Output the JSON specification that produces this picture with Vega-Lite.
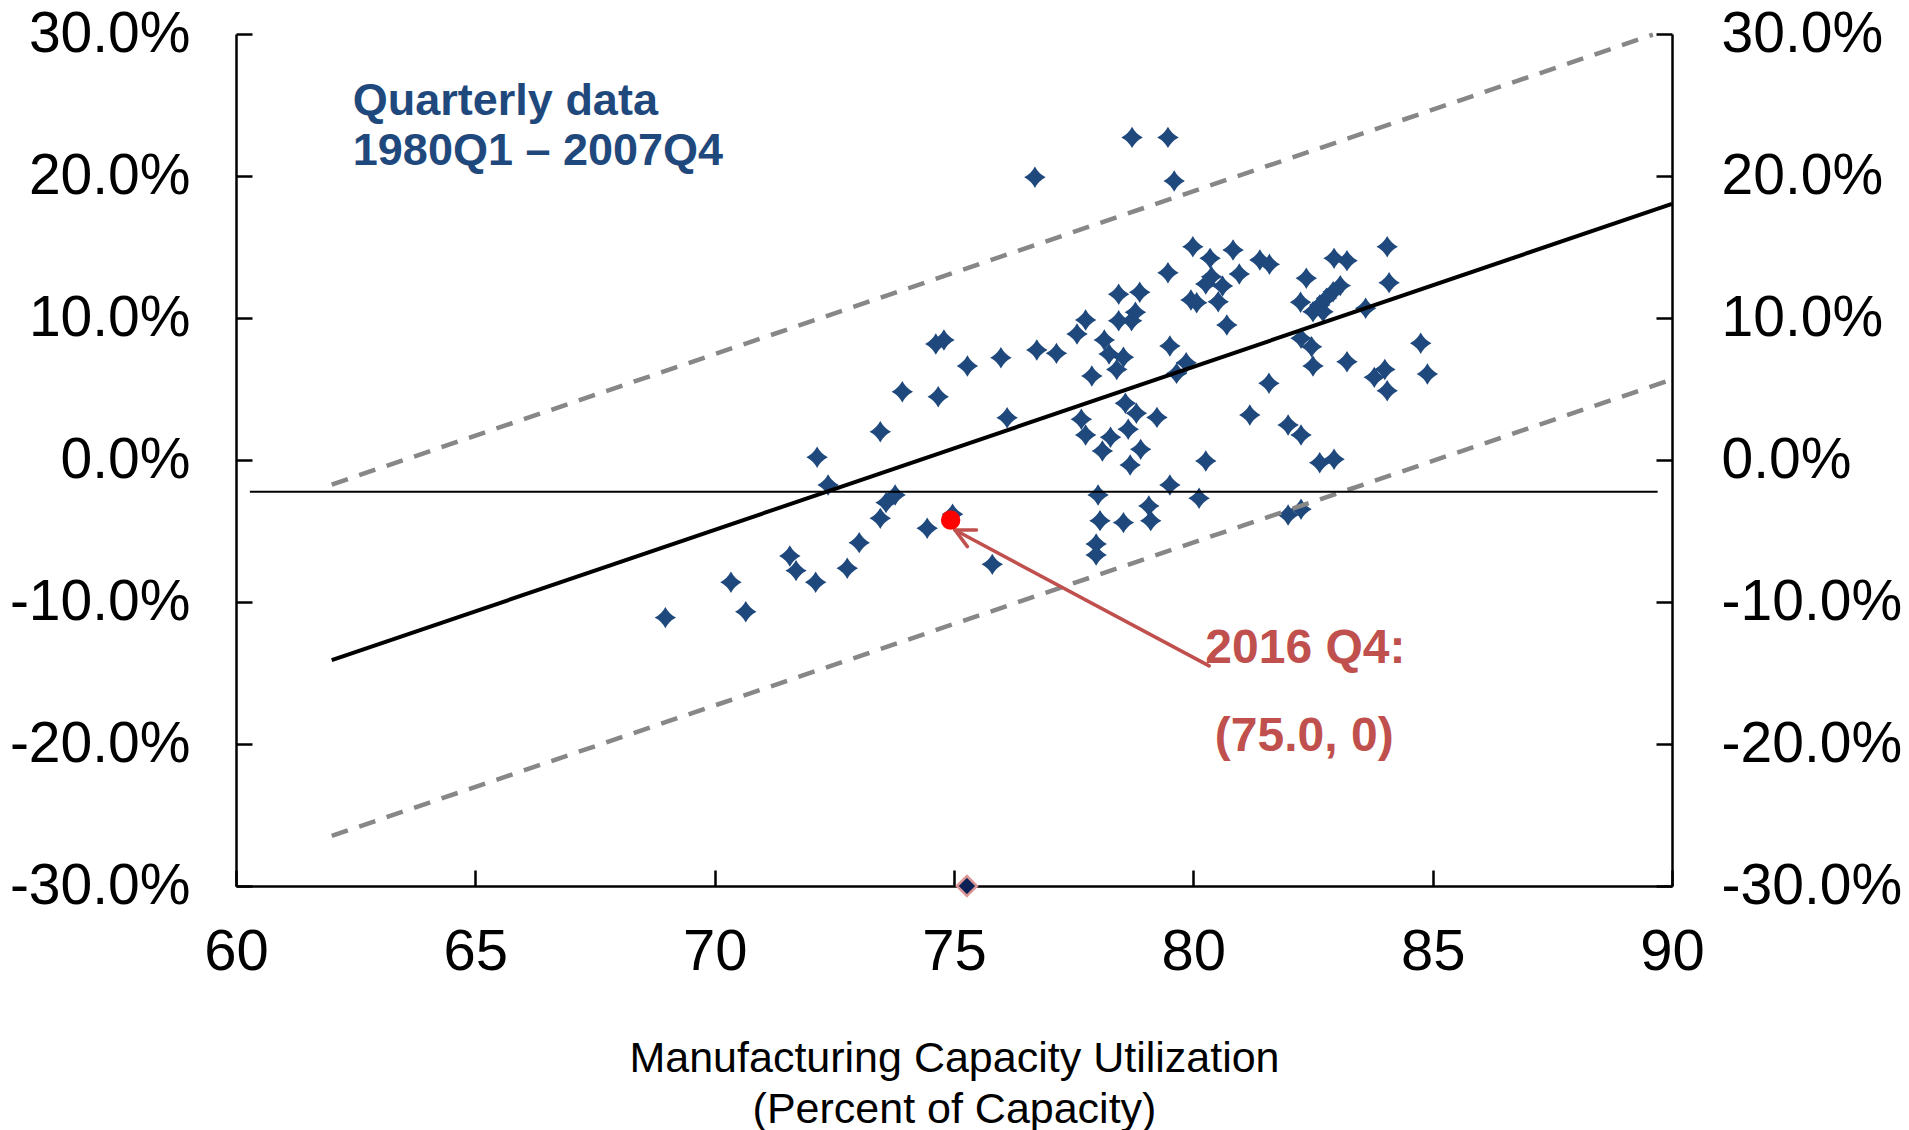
{
  "$schema": "https://vega.github.io/schema/vega-lite/v6.json",
  "width": 1436,
  "height": 852,
  "autosize": {"type": "none"},
  "padding": {"left": 236, "top": 34, "right": 237, "bottom": 244},
  "background": "white",
  "config": {"view": {"stroke": null}, "font": "Liberation Sans"},
  "datasets": {
    "pts": [
      {"cu": 76.69, "g": 19.91}, {"cu": 74.62, "g": 8.17}, {"cu": 74.79, "g": 8.45}, {"cu": 75.28, "g": 6.62},
      {"cu": 75.98, "g": 7.2}, {"cu": 76.73, "g": 7.75}, {"cu": 77.14, "g": 7.51}, {"cu": 73.92, "g": 4.81},
      {"cu": 74.67, "g": 4.46}, {"cu": 78.72, "g": 22.72}, {"cu": 79.47, "g": 22.72}, {"cu": 79.6, "g": 19.65},
      {"cu": 79.99, "g": 15.02}, {"cu": 80.83, "g": 14.79}, {"cu": 80.35, "g": 14.2}, {"cu": 81.39, "g": 14.08},
      {"cu": 81.59, "g": 13.78}, {"cu": 79.47, "g": 13.19}, {"cu": 80.96, "g": 13.1}, {"cu": 80.38, "g": 12.91},
      {"cu": 80.26, "g": 12.39}, {"cu": 80.61, "g": 12.25}, {"cu": 79.95, "g": 11.27}, {"cu": 80.07, "g": 11.08},
      {"cu": 80.52, "g": 11.15}, {"cu": 80.7, "g": 9.51}, {"cu": 78.44, "g": 11.67}, {"cu": 78.88, "g": 11.81},
      {"cu": 78.79, "g": 10.4}, {"cu": 78.71, "g": 9.81}, {"cu": 78.44, "g": 9.81}, {"cu": 77.75, "g": 9.86},
      {"cu": 77.57, "g": 8.87}, {"cu": 78.14, "g": 8.45}, {"cu": 78.24, "g": 7.46}, {"cu": 78.54, "g": 7.23},
      {"cu": 78.4, "g": 6.38}, {"cu": 77.88, "g": 5.92}, {"cu": 79.51, "g": 8.03}, {"cu": 79.85, "g": 6.85},
      {"cu": 79.65, "g": 6.1}, {"cu": 81.58, "g": 5.4}, {"cu": 82.36, "g": 12.8}, {"cu": 82.94, "g": 14.2},
      {"cu": 83.21, "g": 14.04}, {"cu": 84.05, "g": 15.02}, {"cu": 84.09, "g": 12.49}, {"cu": 82.24, "g": 11.11},
      {"cu": 83.07, "g": 12.28}, {"cu": 82.92, "g": 11.85}, {"cu": 82.78, "g": 11.39}, {"cu": 82.64, "g": 10.92},
      {"cu": 82.5, "g": 10.44}, {"cu": 82.71, "g": 10.44}, {"cu": 83.6, "g": 10.68}, {"cu": 82.25, "g": 8.57},
      {"cu": 82.47, "g": 7.98}, {"cu": 82.5, "g": 6.62}, {"cu": 83.21, "g": 6.92}, {"cu": 83.78, "g": 5.82},
      {"cu": 84.0, "g": 6.38}, {"cu": 84.05, "g": 4.88}, {"cu": 84.75, "g": 8.22}, {"cu": 84.89, "g": 6.06},
      {"cu": 76.11, "g": 2.98}, {"cu": 73.46, "g": 1.99}, {"cu": 72.14, "g": 0.19}, {"cu": 72.37, "g": -1.76},
      {"cu": 73.77, "g": -2.46}, {"cu": 73.58, "g": -3.0}, {"cu": 73.46, "g": -4.11}, {"cu": 74.97, "g": -3.82},
      {"cu": 74.44, "g": -4.81}, {"cu": 73.02, "g": -5.82}, {"cu": 71.57, "g": -6.76}, {"cu": 71.7, "g": -7.79},
      {"cu": 72.11, "g": -8.61}, {"cu": 72.77, "g": -7.63}, {"cu": 70.34, "g": -8.61}, {"cu": 70.65, "g": -10.68},
      {"cu": 68.97, "g": -11.1}, {"cu": 75.8, "g": -7.35}, {"cu": 78.58, "g": 3.99}, {"cu": 78.81, "g": 3.29},
      {"cu": 79.24, "g": 3.0}, {"cu": 77.66, "g": 2.87}, {"cu": 77.75, "g": 1.76}, {"cu": 78.27, "g": 1.6},
      {"cu": 78.64, "g": 2.16}, {"cu": 78.1, "g": 0.63}, {"cu": 78.9, "g": 0.75}, {"cu": 78.68, "g": -0.35},
      {"cu": 80.26, "g": -0.07}, {"cu": 81.18, "g": 3.17}, {"cu": 81.98, "g": 2.46}, {"cu": 82.25, "g": 1.76},
      {"cu": 82.64, "g": -0.19}, {"cu": 82.94, "g": 0.05}, {"cu": 79.51, "g": -1.76}, {"cu": 78.01, "g": -2.46},
      {"cu": 80.12, "g": -2.7}, {"cu": 79.07, "g": -3.24}, {"cu": 79.11, "g": -4.27}, {"cu": 78.05, "g": -4.27},
      {"cu": 78.54, "g": -4.41}, {"cu": 77.97, "g": -5.92}, {"cu": 77.97, "g": -6.69}, {"cu": 81.98, "g": -3.87},
      {"cu": 82.25, "g": -3.47}
    ],
    "fit": [
      {"cu": 62, "g": -14.1, "s": "fit"}, {"cu": 90, "g": 18.04, "s": "fit"},
      {"cu": 62, "g": -1.73, "s": "upper"}, {"cu": 89.6, "g": 29.95, "s": "upper"},
      {"cu": 62, "g": -26.47, "s": "lower"}, {"cu": 90, "g": 5.67, "s": "lower"}
    ],
    "arrow": [
      {"x": 80.33, "y": -14.5, "x2": 75.02, "y2": -4.93},
      {"x": 75.02, "y": -4.93, "x2": 75.47, "y2": -4.93},
      {"x": 75.02, "y": -4.93, "x2": 75.28, "y2": -6.1}
    ]
  },
  "layer": [
    {
      "data": {"name": "pts"},
      "mark": {"type": "point", "shape": "M0,-1Q0.34,-0.34,1,0Q0.34,0.34,0,1Q-0.34,0.34,-1,0Q-0.34,-0.34,0,-1Z", "filled": true, "color": "#1F497D", "opacity": 1, "size": 460},
      "encoding": {
        "x": {"field": "cu", "type": "quantitative", "scale": {"domain": [60, 90], "nice": false, "zero": false},
          "axis": {"orient": "bottom", "values": [60, 65, 70, 75, 80, 85, 90], "format": "d", "grid": false,
            "labelFlush": false, "labelOverlap": false, "labelFontSize": 58, "labelColor": "black", "labelPadding": 53,
            "tickSize": -16, "tickWidth": 2.5, "tickColor": "black", "domainColor": "black", "domainWidth": 2.5,
            "title": ["Manufacturing Capacity Utilization", "(Percent of Capacity)"],
            "titleFontSize": 43, "titleFontWeight": "normal", "titleColor": "black", "titleLineHeight": 51,
            "titleBaseline": "top", "titlePadding": 56}},
        "y": {"field": "g", "type": "quantitative", "scale": {"domain": [-30, 30], "nice": false, "zero": false},
          "axis": {"orient": "left", "values": [-30, -20, -10, 0, 10, 20, 30], "grid": false,
            "labelExpr": "(datum.value < 0 ? '-' : '') + format(abs(datum.value), '.1f') + '%'",
            "labelOverlap": false, "labelFlush": false, "labelLimit": 0, "labelFontSize": 57, "labelColor": "black", "labelPadding": 62,
            "tickSize": -16, "tickWidth": 2.5, "tickColor": "black", "domainColor": "black", "domainWidth": 2.5, "title": null}}
      }
    },
    {
      "data": {"name": "fit"},
      "transform": [{"filter": "datum.s === 'fit'"}],
      "mark": {"type": "line", "color": "black", "strokeWidth": 4},
      "encoding": {
        "x": {"field": "cu", "type": "quantitative"},
        "y": {"field": "g", "type": "quantitative", "scale": {"domain": [-30, 30], "nice": false, "zero": false},
          "axis": {"orient": "right", "values": [-30, -20, -10, 0, 10, 20, 30], "grid": false,
            "labelExpr": "(datum.value < 0 ? '-' : '') + format(abs(datum.value), '.1f') + '%'",
            "labelOverlap": false, "labelFlush": false, "labelLimit": 0, "labelFontSize": 57, "labelColor": "black", "labelPadding": 65,
            "tickSize": -16, "tickWidth": 2.5, "tickColor": "black", "domainColor": "black", "domainWidth": 2.5, "title": null}}
      }
    },
    {
      "data": {"name": "fit"},
      "transform": [{"filter": "datum.s !== 'fit'"}],
      "mark": {"type": "line", "color": "#878787", "strokeWidth": 4.5, "strokeDash": [17, 12]},
      "encoding": {
        "x": {"field": "cu", "type": "quantitative"},
        "y": {"field": "g", "type": "quantitative", "axis": null},
        "detail": {"field": "s"}
      }
    },
    {
      "data": {"values": [{"x": 60.29, "x2": 89.7, "y": -2.23}]},
      "mark": {"type": "rule", "color": "black", "strokeWidth": 2},
      "encoding": {
        "x": {"field": "x", "type": "quantitative"},
        "x2": {"field": "x2"},
        "y": {"field": "y", "type": "quantitative", "axis": null}
      }
    },
    {
      "data": {"name": "arrow"},
      "mark": {"type": "rule", "color": "#C0504D", "strokeWidth": 3.5, "strokeCap": "round"},
      "encoding": {
        "x": {"field": "x", "type": "quantitative"},
        "x2": {"field": "x2"},
        "y": {"field": "y", "type": "quantitative", "axis": null},
        "y2": {"field": "y2"}
      }
    },
    {
      "data": {"values": [{"cu": 74.93, "g": -4.23}]},
      "mark": {"type": "circle", "color": "#FF0000", "opacity": 1, "size": 380},
      "encoding": {
        "x": {"field": "cu", "type": "quantitative"},
        "y": {"field": "g", "type": "quantitative", "axis": null}
      }
    },
    {
      "data": {"values": [{"cu": 75.27, "g": -30}]},
      "mark": {"type": "point", "shape": "diamond", "filled": true, "fill": "#0C2155", "stroke": "#D99694", "strokeWidth": 2.5, "opacity": 1, "size": 400},
      "encoding": {
        "x": {"field": "cu", "type": "quantitative"},
        "y": {"field": "g", "type": "quantitative", "axis": null}
      }
    },
    {
      "data": {"values": [
        {"cu": 62.44, "g": 24.3, "t": "Quarterly  data"},
        {"cu": 62.44, "g": 20.77, "t": "1980Q1 – 2007Q4"}
      ]},
      "mark": {"type": "text", "align": "left", "baseline": "alphabetic", "fontSize": 45, "fontWeight": "bold", "color": "#1F497D"},
      "encoding": {
        "x": {"field": "cu", "type": "quantitative"},
        "y": {"field": "g", "type": "quantitative", "axis": null},
        "text": {"field": "t"}
      }
    },
    {
      "data": {"values": [
        {"cu": 80.25, "g": -14.33, "t": "2016 Q4:"},
        {"cu": 80.45, "g": -20.49, "t": "(75.0, 0)"}
      ]},
      "mark": {"type": "text", "align": "left", "baseline": "alphabetic", "fontSize": 48, "fontWeight": "bold", "color": "#C0504D"},
      "encoding": {
        "x": {"field": "cu", "type": "quantitative"},
        "y": {"field": "g", "type": "quantitative", "axis": null},
        "text": {"field": "t"}
      }
    }
  ],
  "resolve": {"axis": {"y": "independent"}}
}
